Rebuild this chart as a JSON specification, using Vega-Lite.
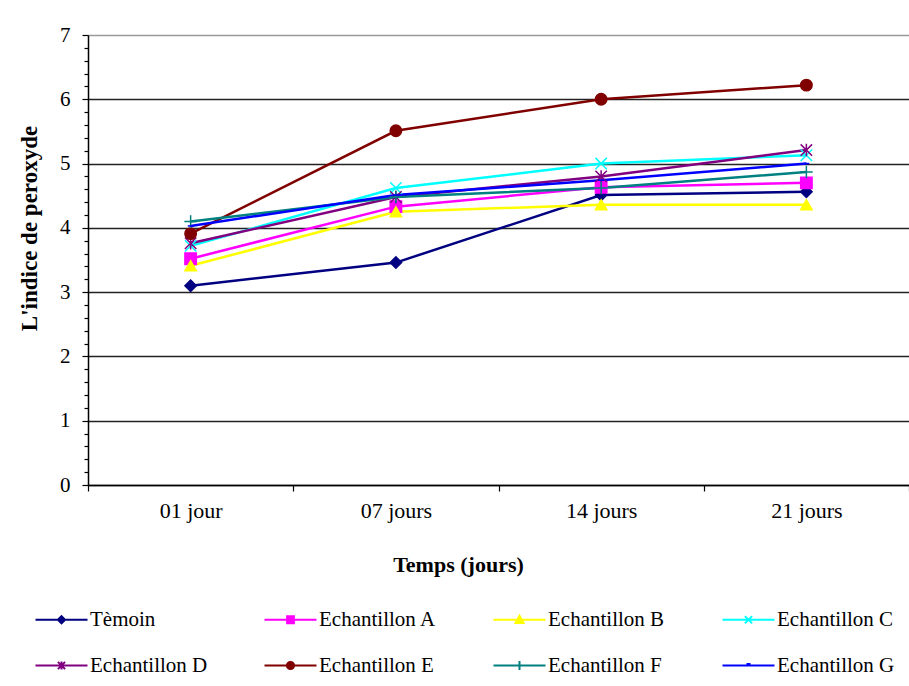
{
  "$schema": "https://vega.github.io/schema/vega-lite/v6.json",
  "width": 821,
  "height": 450,
  "autosize": {"type": "none"},
  "padding": {"left": 88, "top": 35, "right": 0, "bottom": 201},
  "background": "white",
  "config": {
    "font": "Liberation Serif",
    "style": {"guide-label": {"font": "Liberation Serif"}, "guide-title": {"font": "Liberation Serif"}},
    "view": {"stroke": null},
    "axis": {"labelFont": "Liberation Serif", "titleFont": "Liberation Serif", "labelColor": "black", "titleColor": "black", "labelFontSize": 21, "titleFontSize": 22, "titleFontWeight": "bold", "domainColor": "black", "domainWidth": 1.5, "tickColor": "black", "tickWidth": 1.2},
    "legend": {"labelFont": "Liberation Serif", "labelFontSize": 21, "labelColor": "black", "columns": 4, "direction": "horizontal", "gridAlign": "all", "symbolSize": 64, "symbolStrokeWidth": 2, "labelOffset": 18, "symbolOffset": 26, "columnPadding": 46, "rowPadding": 24, "padding": 0, "labelLimit": 300}
  },
  "data": {"values": [
    {"t": "01 jour", "s": "Tèmoin", "v": 3.10},
    {"t": "07 jours", "s": "Tèmoin", "v": 3.46},
    {"t": "14 jours", "s": "Tèmoin", "v": 4.51},
    {"t": "21 jours", "s": "Tèmoin", "v": 4.56},
    {"t": "01 jour", "s": "Echantillon A", "v": 3.52},
    {"t": "07 jours", "s": "Echantillon A", "v": 4.33},
    {"t": "14 jours", "s": "Echantillon A", "v": 4.63},
    {"t": "21 jours", "s": "Echantillon A", "v": 4.70},
    {"t": "01 jour", "s": "Echantillon B", "v": 3.41},
    {"t": "07 jours", "s": "Echantillon B", "v": 4.25},
    {"t": "14 jours", "s": "Echantillon B", "v": 4.36},
    {"t": "21 jours", "s": "Echantillon B", "v": 4.36},
    {"t": "01 jour", "s": "Echantillon C", "v": 3.72},
    {"t": "07 jours", "s": "Echantillon C", "v": 4.62},
    {"t": "14 jours", "s": "Echantillon C", "v": 5.00},
    {"t": "21 jours", "s": "Echantillon C", "v": 5.13},
    {"t": "01 jour", "s": "Echantillon D", "v": 3.76},
    {"t": "07 jours", "s": "Echantillon D", "v": 4.48},
    {"t": "14 jours", "s": "Echantillon D", "v": 4.80},
    {"t": "21 jours", "s": "Echantillon D", "v": 5.21},
    {"t": "01 jour", "s": "Echantillon E", "v": 3.91},
    {"t": "07 jours", "s": "Echantillon E", "v": 5.51},
    {"t": "14 jours", "s": "Echantillon E", "v": 6.00},
    {"t": "21 jours", "s": "Echantillon E", "v": 6.22},
    {"t": "01 jour", "s": "Echantillon F", "v": 4.10},
    {"t": "07 jours", "s": "Echantillon F", "v": 4.48},
    {"t": "14 jours", "s": "Echantillon F", "v": 4.62},
    {"t": "21 jours", "s": "Echantillon F", "v": 4.87},
    {"t": "01 jour", "s": "Echantillon G", "v": 4.03},
    {"t": "07 jours", "s": "Echantillon G", "v": 4.51},
    {"t": "14 jours", "s": "Echantillon G", "v": 4.74},
    {"t": "21 jours", "s": "Echantillon G", "v": 5.00}
  ]},
  "encoding": {
    "x": {"field": "t", "type": "ordinal", "sort": ["01 jour", "07 jours", "14 jours", "21 jours"],
      "scale": {"type": "band", "paddingInner": 0, "paddingOuter": 0},
      "axis": {"title": "Temps (jours)", "labelAngle": 0, "labelFontSize": 22, "labelDx": 5, "tickBand": "extent", "tickSize": 6, "labelPadding": 9, "titlePadding": 33, "titleX": 370, "grid": false}},
    "y": {"field": "v", "type": "quantitative",
      "scale": {"domain": [0, 7], "nice": false, "zero": true},
      "axis": {"title": "L'indice de peroxyde", "titleFontSize": 23, "titleY": 193, "values": [0,0.2,0.4,0.6,0.8,1,1.2,1.4,1.6,1.8,2,2.2,2.4,2.6,2.8,3,3.2,3.4,3.6,3.8,4,4.2,4.4,4.6,4.8,5,5.2,5.4,5.6,5.8,6,6.2,6.4,6.6,6.8,7],
        "labelExpr": "abs(datum.value - round(datum.value)) < 0.001 ? toString(round(datum.value)) : ''",
        "labelOverlap": false, "labelBound": false, "labelPadding": 12, "titlePadding": 18,
        "grid": true,
        "gridOpacity": {"condition": {"test": "abs(datum.value - round(datum.value)) < 0.001", "value": 1}, "value": 0},
        "gridColor": {"condition": {"test": "datum.value > 6.9", "value": "#9a9a9a"}, "value": "#222222"},
        "gridWidth": 1.3,
        "tickSize": {"condition": {"test": "abs(datum.value - round(datum.value)) < 0.001", "value": 6}, "value": 4}}}
  },
  "layer": [
    {
      "mark": {"type": "line", "strokeWidth": 2.5},
      "encoding": {
        "color": {"field": "s", "type": "nominal",
          "scale": {"domain": ["Tèmoin", "Echantillon A", "Echantillon B", "Echantillon C", "Echantillon D", "Echantillon E", "Echantillon F", "Echantillon G"],
            "range": ["#000080", "#FF00FF", "#FFFF00", "#00FFFF", "#800080", "#800000", "#008080", "#0000FF"]},
          "legend": null}
      }
    },
    {
      "mark": {"type": "point", "size": 130, "strokeWidth": 1.5, "opacity": 1},
      "encoding": {
        "fill": {"field": "s", "type": "nominal",
          "scale": {"domain": ["Tèmoin", "Echantillon A", "Echantillon B", "Echantillon C", "Echantillon D", "Echantillon E", "Echantillon F", "Echantillon G"],
            "range": ["#000080", "#FF00FF", "#FFFF00", "#00FFFF", "#800080", "#800000", "#008080", "#0000FF"]},
          "legend": null},
        "stroke": {"field": "s", "type": "nominal",
          "scale": {"domain": ["Tèmoin", "Echantillon A", "Echantillon B", "Echantillon C", "Echantillon D", "Echantillon E", "Echantillon F", "Echantillon G"],
            "range": ["#000080", "#FF00FF", "#FFFF00", "#00FFFF", "#800080", "#800000", "#008080", "#0000FF"]},
          "legend": null},
        "shape": {"field": "s", "type": "nominal",
          "scale": {"domain": ["Tèmoin", "Echantillon A", "Echantillon B", "Echantillon C", "Echantillon D", "Echantillon E", "Echantillon F", "Echantillon G"],
            "range": ["diamond", "square", "triangle-up", "M-1,-1L1,1M1,-1L-1,1", "M-1,-1L1,1M1,-1L-1,1M0,-1.1L0,1.1", "circle", "M0,-1.1L0,1.1M-1.1,0L1.1,0", "M-0.5,0L0.5,0"]},
          "legend": null}
      }
    },
    {
      "transform": [{"filter": "datum.v > 100"}],
      "mark": {"type": "point", "size": 64, "strokeWidth": 2, "opacity": 1},
      "encoding": {
        "fill": {"field": "s", "type": "nominal",
          "scale": {"domain": ["Tèmoin", "Echantillon A", "Echantillon B", "Echantillon C", "Echantillon D", "Echantillon E", "Echantillon F", "Echantillon G"],
            "range": ["#000080", "#FF00FF", "#FFFF00", "#00FFFF", "#800080", "#800000", "#008080", "#0000FF"]},
          "legend": {"title": null, "orient": "none", "legendX": -63, "legendY": 574, "labelFont": "Liberation Serif", "labelFontSize": 21}},
        "stroke": {"field": "s", "type": "nominal",
          "scale": {"domain": ["Tèmoin", "Echantillon A", "Echantillon B", "Echantillon C", "Echantillon D", "Echantillon E", "Echantillon F", "Echantillon G"],
            "range": ["#000080", "#FF00FF", "#FFFF00", "#00FFFF", "#800080", "#800000", "#008080", "#0000FF"]},
          "legend": {"title": null, "orient": "none", "legendX": -63, "legendY": 574, "labelFont": "Liberation Serif", "labelFontSize": 21}},
        "shape": {"field": "s", "type": "nominal",
          "scale": {"domain": ["Tèmoin", "Echantillon A", "Echantillon B", "Echantillon C", "Echantillon D", "Echantillon E", "Echantillon F", "Echantillon G"],
            "range": [
              "M-6.5,0L6.5,0M0,-0.9L0.9,0L0,0.9L-0.9,0Z",
              "M-6.5,0L6.5,0M-0.85,-0.85L0.85,-0.85L0.85,0.85L-0.85,0.85Z",
              "M-6.5,0L6.5,0M0,-1L1,0.8L-1,0.8Z",
              "M-6.5,0L6.5,0M-0.9,-0.9L0.9,0.9M0.9,-0.9L-0.9,0.9",
              "M-6.5,0L6.5,0M-0.9,-0.9L0.9,0.9M0.9,-0.9L-0.9,0.9M0,-1L0,1",
              "M-6.5,0L6.5,0M-0.9,0A0.9,0.9,0,1,1,0.9,0A0.9,0.9,0,1,1,-0.9,0Z",
              "M-6.5,0L6.5,0M0,-1.1L0,1.1",
              "M-6.5,0L6.5,0M-0.5,-0.35L0.5,-0.35"
            ]},
          "legend": {"title": null, "orient": "none", "legendX": -63, "legendY": 574, "labelFont": "Liberation Serif", "labelFontSize": 21}}
      }
    }
  ],
  "resolve": {"scale": {"color": "independent", "fill": "independent", "stroke": "independent", "shape": "independent"}}
}
